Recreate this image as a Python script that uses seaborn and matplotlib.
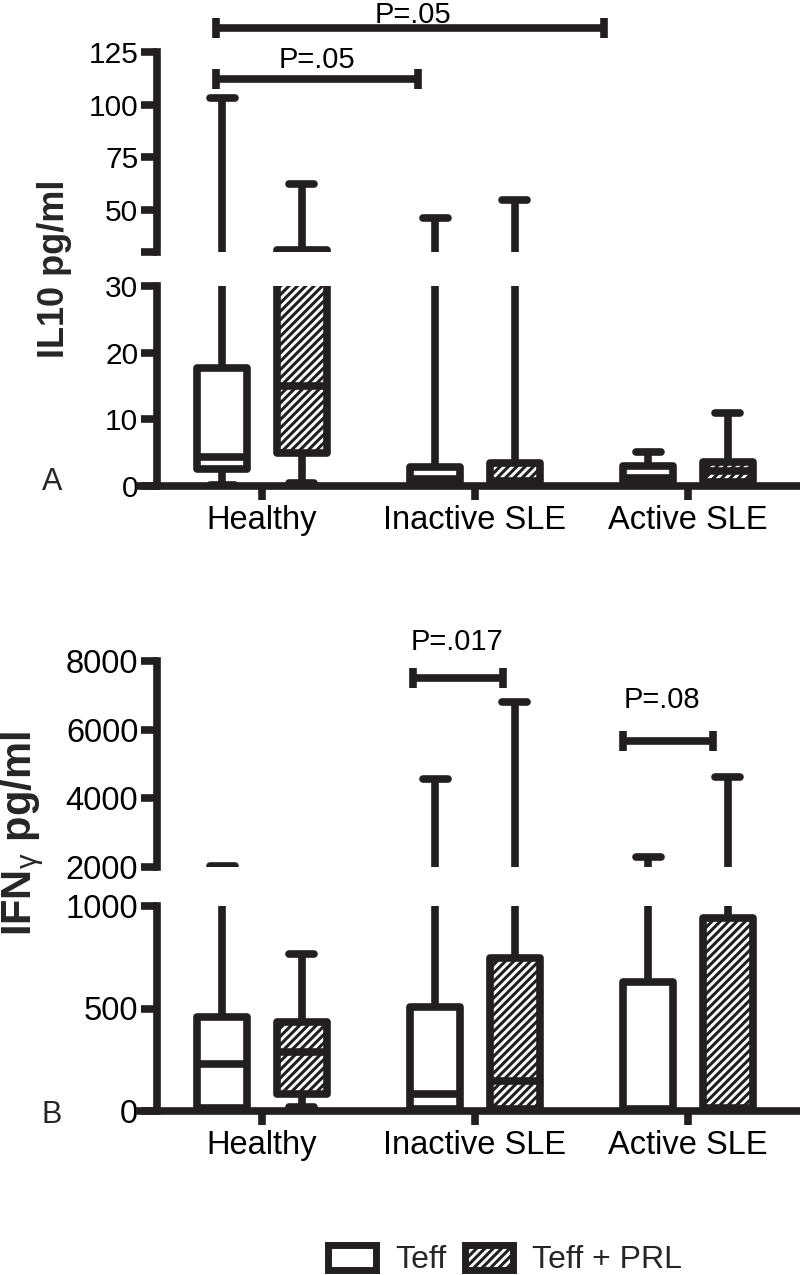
import numpy as np
import pandas as pd
import matplotlib
matplotlib.use("Agg")
import matplotlib.pyplot as plt
import seaborn as sns
from matplotlib.patches import Patch

# ---------------- data ----------------
categories = ["Healthy", "Inactive SLE", "Active SLE"]
conditions = ["Teff", "Teff + PRL"]

# five-number summaries per group: (min, Q1, median, Q3, max)
il10_teff = [[0.2, 2.6, 4.4, 17.7, 103.0],
             [0.0, 0.4, 1.1, 2.8, 46.0],
             [0.0, 0.5, 1.2, 3.0, 5.1]]
il10_prl = [[0.5, 4.9, 15.0, 31.0, 62.5],
            [0.0, 0.5, 0.8, 3.5, 54.5],
            [0.0, 0.6, 2.2, 3.6, 10.9]]
ifng_teff = [[0, 15, 229, 458, 2030],
             [0, 10, 83, 507, 4560],
             [0, 5, 10, 629, 2290]]
ifng_prl = [[20, 83, 288, 434, 766],
            [0, 10, 146, 746, 6800],
            [0, 8, 15, 941, 4620]]

il10_upper_ticks = [30, 50, 75, 100, 125]
il10_upper_labels = ["", "50", "75", "100", "125"]
il10_lower_ticks = [0, 10, 20, 30]
ifng_upper_ticks = [2000, 4000, 6000, 8000]
ifng_lower_ticks = [0, 500, 1000]

# significance annotations: (x_start, x_end, y, label, text_x, text_y)
il10_pvals = [(-0.216, 0.732, 112.2, "P=.05", 0.258, 121.3),
              (-0.216, 1.606, 136.3, "P=.05", 0.71, 142.6)]
ifng_pvals = [(0.709, 1.131, 7500, "P=.017", 0.915, 8550),
              (1.695, 2.117, 5670, "P=.08", 1.878, 6860)]


def long_df(teff, prl):
    rows = []
    for cond, summ in zip(conditions, [teff, prl]):
        for cat, vals in zip(categories, summ):
            for v in vals:
                rows.append((cat, cond, v))
    return pd.DataFrame(rows, columns=["group", "condition", "value"])


df_il10 = long_df(il10_teff, il10_prl)
df_ifng = long_df(ifng_teff, ifng_prl)

# ---------------- style ----------------
sns.set_style("ticks")
plt.rcParams["font.family"] = ["Liberation Sans", "DejaVu Sans"]
plt.rcParams["mathtext.fontset"] = "custom"
plt.rcParams["mathtext.rm"] = "Liberation Sans"
plt.rcParams["mathtext.bf"] = "Liberation Sans:bold"
plt.rcParams["mathtext.it"] = "Liberation Sans:italic"
plt.rcParams["hatch.linewidth"] = 2.2
plt.rcParams["hatch.color"] = "#231f20"

INK = "#231f20"
LW = 5.5
XLIM = (-0.573, 2.512)
SPINE_X = -0.493

fig = plt.figure(figsize=(8, 12.75), dpi=100)
H = 1275.0
W = 800.0


def rect(top_px, bot_px):
    return [140 / W, 1 - bot_px / H, 657 / W, (bot_px - top_px) / H]


def draw_boxes(ax, df, ysize):
    sns.boxplot(data=df, x="group", y="value", hue="condition",
                order=categories, hue_order=conditions,
                palette=["white", "white"], saturation=1,
                linecolor=INK, linewidth=LW, width=0.75, gap=0.375,
                whis=(0, 100), fliersize=0, legend=False, ax=ax,
                medianprops=dict(color=INK, linewidth=LW),
                whiskerprops=dict(color=INK, linewidth=LW),
                capprops=dict(color=INK, linewidth=LW, solid_capstyle="round"),
                boxprops=dict(joinstyle="round"))
    for p in ax.patches:
        v = p.get_path().vertices
        xc = (v[:, 0].min() + v[:, 0].max()) / 2
        if xc - round(xc) > 0:
            p.set_hatch("////")
    ax.set_xlim(*XLIM)
    ax.set_xlabel("")
    ax.set_ylabel("")
    ax.spines["left"].set_position(("data", SPINE_X))
    ax.spines["left"].set_linewidth(LW)
    ax.spines["left"].set_color(INK)
    ax.spines["left"].set_capstyle("projecting")
    ax.spines["bottom"].set_linewidth(LW)
    ax.spines["bottom"].set_color(INK)
    ax.tick_params(axis="y", length=11.5, width=LW, color=INK, labelsize=ysize,
                   pad=2, labelcolor="black")
    ax.tick_params(axis="x", length=10, width=LW, color=INK, labelsize=23.5,
                   pad=4, labelcolor="black")
    ax.set_facecolor("none")


def upper(ax, ylim, ticks, labels):
    ax.set_ylim(*ylim)
    ax.set_yticks(ticks)
    ax.set_yticklabels(labels)
    for s in ["top", "right", "bottom"]:
        ax.spines[s].set_visible(False)
    ax.tick_params(axis="x", bottom=False, labelbottom=False)


def lower(ax, ylim, ticks):
    ax.set_ylim(*ylim)
    ax.set_yticks(ticks)
    for s in ["top", "right"]:
        ax.spines[s].set_visible(False)
    ax.set_xticks(range(len(categories)))
    ax.set_xticklabels(categories)


def pvals(ax, specs):
    for x0, x1, y, lab, tx, ty in specs:
        ax.plot([x0, x1], [y, y], color=INK, lw=LW, marker="|", ms=15,
                mew=LW, clip_on=False, solid_capstyle="butt")
        ax.text(tx, ty, lab, ha="center", va="center", fontsize=21,
                color="black", clip_on=False)


# Panel A
axA_up = fig.add_axes(rect(52, 252))
axA_lo = fig.add_axes(rect(286, 486))
for ax in (axA_up, axA_lo):
    draw_boxes(ax, df_il10, 21.5)
upper(axA_up, (30, 125), il10_upper_ticks, il10_upper_labels)
lower(axA_lo, (0, 30), il10_lower_ticks)
pvals(axA_up, il10_pvals)

# Panel B
axB_up = fig.add_axes(rect(661, 867))
axB_lo = fig.add_axes(rect(906, 1111))
for ax in (axB_up, axB_lo):
    draw_boxes(ax, df_ifng, 23.5)
upper(axB_up, (2000, 8000), ifng_upper_ticks, [str(t) for t in ifng_upper_ticks])
lower(axB_lo, (0, 1000), ifng_lower_ticks)
pvals(axB_up, ifng_pvals)

# labels
fig.text(54 / W, 1 - 269 / H, "IL10 pg/ml", rotation=90, fontsize=26,
         fontweight="bold", ha="center", va="center")
fig.text(22 / W, 1 - 834 / H, r"IFN$_{\mathrm{\gamma}}$ pg/ml", rotation=90,
         fontsize=30, fontweight="bold", ha="center", va="center")
fig.text(52 / W, 1 - 482 / H, "A", fontsize=22, ha="center", va="center")
fig.text(52 / W, 1 - 1115 / H, "B", fontsize=22, ha="center", va="center")

# legend
handles = [Patch(facecolor="white", edgecolor=INK, linewidth=5),
           Patch(facecolor="white", edgecolor=INK, linewidth=5, hatch="////")]
fig.legend(handles, conditions, loc="center", bbox_to_anchor=(505 / W, 1 - 1260 / H),
           ncol=2, frameon=False, fontsize=23, handlelength=1.5,
           handleheight=0.85, handletextpad=0.6, columnspacing=0.6)

fig.savefig("out.png", dpi=100)
